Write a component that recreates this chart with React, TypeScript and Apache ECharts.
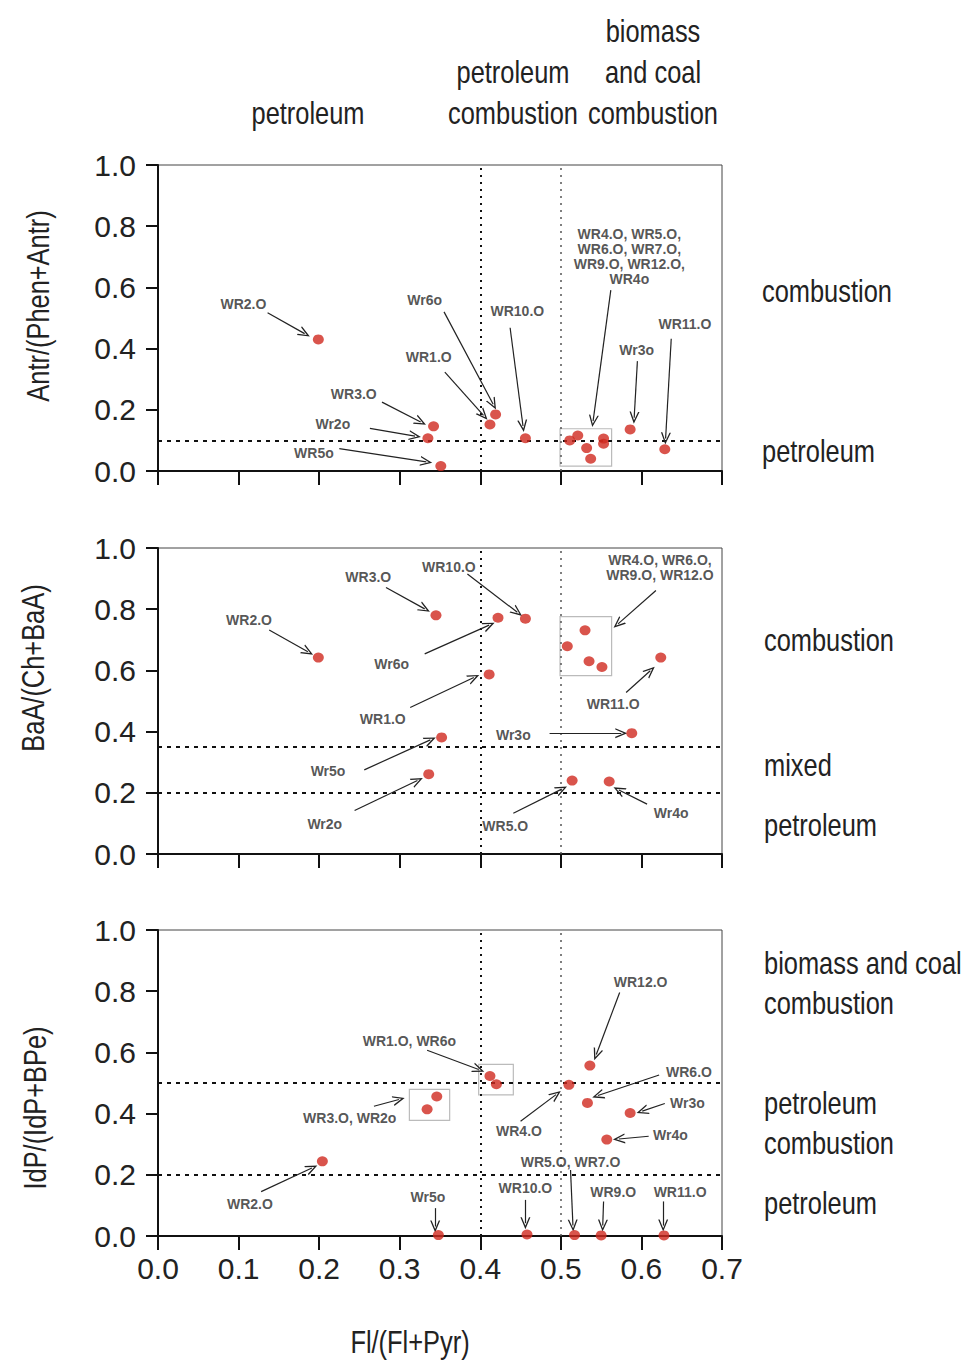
import React, { useEffect, useRef } from "react";
import * as echarts from "echarts";

// ---------- data ----------
const xTickLabels = ["0.0", "0.1", "0.2", "0.3", "0.4", "0.5", "0.6", "0.7"];

// Panel 1: Antr/(Phen+Antr) vs Fl/(Fl+Pyr)
const antrFl = [0.199, 0.342, 0.335, 0.351, 0.412, 0.419, 0.456, 0.511, 0.521, 0.532, 0.537, 0.553, 0.553, 0.586, 0.629];
const antrRatio = [0.43, 0.146, 0.107, 0.016, 0.152, 0.185, 0.107, 0.1, 0.116, 0.075, 0.04, 0.106, 0.089, 0.136, 0.071];

// Panel 2: BaA/(Ch+BaA) vs Fl/(Fl+Pyr)
const baaFl = [0.199, 0.345, 0.422, 0.456, 0.411, 0.53, 0.508, 0.535, 0.551, 0.624, 0.588, 0.352, 0.336, 0.514, 0.56];
const baaRatio = [0.642, 0.78, 0.772, 0.769, 0.587, 0.731, 0.679, 0.63, 0.611, 0.642, 0.395, 0.381, 0.261, 0.24, 0.237];

// Panel 3: IdP/(IdP+BPe) vs Fl/(Fl+Pyr)
const idpFl = [0.204, 0.346, 0.334, 0.412, 0.42, 0.51, 0.536, 0.533, 0.586, 0.557, 0.348, 0.458, 0.517, 0.55, 0.628];
const idpRatio = [0.244, 0.456, 0.414, 0.523, 0.496, 0.494, 0.557, 0.435, 0.402, 0.315, 0.003, 0.005, 0.003, 0.002, 0.002];

// reference (threshold) values
const flCuts = [0.4, 0.5];
const antrCuts = [0.1];
const baaCuts = [0.35, 0.2];
const idpCuts = [0.5, 0.2];

// annotations: text, label centre, arrow from -> to (data units)
const antrNotes = [
  { text: "WR2.O", at: [0.106, 0.546], from: [0.136, 0.517], to: [0.182, 0.449] },
  { text: "Wr6o", at: [0.331, 0.558], from: [0.355, 0.52], to: [0.416, 0.218] },
  { text: "WR1.O", at: [0.336, 0.372], from: [0.356, 0.323], to: [0.404, 0.182] },
  { text: "WR10.O", at: [0.446, 0.524], from: [0.437, 0.468], to: [0.453, 0.147] },
  { text: "WR3.O", at: [0.243, 0.252], from: [0.278, 0.225], to: [0.326, 0.16] },
  { text: "Wr2o", at: [0.217, 0.155], from: [0.263, 0.139], to: [0.319, 0.114] },
  { text: "WR5o", at: [0.1935, 0.058], from: [0.225, 0.073], to: [0.333, 0.03] },
  { text: "WR4.O, WR5.O,\nWR6.O, WR7.O,\nWR9.O, WR12.O,\nWR4o", at: [0.585, 0.702], from: [0.562, 0.591], to: [0.54, 0.163] },
  { text: "Wr3o", at: [0.594, 0.395], from: [0.595, 0.359], to: [0.591, 0.174] },
  { text: "WR11.O", at: [0.654, 0.479], from: [0.637, 0.432], to: [0.63, 0.106] },
];
const baaNotes = [
  { text: "WR3.O", at: [0.261, 0.906], from: [0.283, 0.871], to: [0.331, 0.801] },
  { text: "WR10.O", at: [0.361, 0.937], from: [0.384, 0.915], to: [0.446, 0.79] },
  { text: "WR2.O", at: [0.113, 0.765], from: [0.138, 0.732], to: [0.186, 0.661] },
  { text: "Wr6o", at: [0.29, 0.621], from: [0.331, 0.654], to: [0.411, 0.748] },
  { text: "WR1.O", at: [0.279, 0.441], from: [0.313, 0.479], to: [0.392, 0.577] },
  { text: "WR4.O, WR6.O,\nWR9.O, WR12.O", at: [0.623, 0.937], from: [0.618, 0.861], to: [0.571, 0.752] },
  { text: "WR11.O", at: [0.565, 0.49], from: [0.581, 0.528], to: [0.611, 0.599] },
  { text: "Wr3o", at: [0.441, 0.39], from: [0.486, 0.395], to: [0.575, 0.395] },
  { text: "Wr5o", at: [0.211, 0.27], from: [0.256, 0.275], to: [0.338, 0.373] },
  { text: "Wr2o", at: [0.207, 0.098], from: [0.244, 0.142], to: [0.322, 0.24] },
  { text: "WR5.O", at: [0.431, 0.093], from: [0.441, 0.133], to: [0.501, 0.212] },
  { text: "Wr4o", at: [0.637, 0.133], from: [0.607, 0.163], to: [0.572, 0.209] },
];
const idpNotes = [
  { text: "WR1.O, WR6o", at: [0.312, 0.637], from: [0.334, 0.607], to: [0.398, 0.544] },
  { text: "WR3.O, WR2o", at: [0.238, 0.386], from: [0.268, 0.424], to: [0.299, 0.446] },
  { text: "WR2.O", at: [0.114, 0.104], from: [0.128, 0.145], to: [0.191, 0.222] },
  { text: "WR12.O", at: [0.599, 0.831], from: [0.573, 0.796], to: [0.544, 0.593] },
  { text: "WR6.O", at: [0.659, 0.537], from: [0.622, 0.526], to: [0.546, 0.459] },
  { text: "Wr3o", at: [0.657, 0.435], from: [0.629, 0.433], to: [0.601, 0.408] },
  { text: "Wr4o", at: [0.636, 0.331], from: [0.609, 0.326], to: [0.572, 0.317] },
  { text: "WR4.O", at: [0.448, 0.342], from: [0.45, 0.375], to: [0.494, 0.462] },
  { text: "WR5.O, WR7.O", at: [0.512, 0.242], from: [0.512, 0.216], to: [0.515, 0.034] },
  { text: "Wr5o", at: [0.335, 0.129], from: [0.344, 0.091], to: [0.344, 0.031] },
  { text: "WR10.O", at: [0.456, 0.156], from: [0.456, 0.118], to: [0.456, 0.042] },
  { text: "WR9.O", at: [0.565, 0.145], from: [0.553, 0.113], to: [0.552, 0.034] },
  { text: "WR11.O", at: [0.648, 0.145], from: [0.627, 0.113], to: [0.627, 0.034] },
];

// highlighted groups (data units: x1, y1, x2, y2)
const antrBoxes = [[0.499, 0.138, 0.563, 0.016]];
const baaBoxes = [[0.499, 0.776, 0.563, 0.583]];
const idpBoxes = [
  [0.312, 0.479, 0.362, 0.378],
  [0.398, 0.561, 0.441, 0.461],
];

const yTitles = ["Antr/(Phen+Antr)", "BaA/(Ch+BaA)", "IdP/(IdP+BPe)"];
const xTitle = "Fl/(Fl+Pyr)";

// ---------- styling ----------
const SANS = "'Liberation Sans', Arial, sans-serif";
const DOT = "#d0291f";
const ARROW = "path://M0,12 L5,0 L10,12 L8.6,12 L5,3.4 L1.4,12 Z";
const NARROW_SCALE = 0.82;

const panels = [
  { fl: antrFl, ratio: antrRatio, cuts: antrCuts, notes: antrNotes, boxes: antrBoxes, top: 165 },
  { fl: baaFl, ratio: baaRatio, cuts: baaCuts, notes: baaNotes, boxes: baaBoxes, top: 548 },
  { fl: idpFl, ratio: idpRatio, cuts: idpCuts, notes: idpNotes, boxes: idpBoxes, top: 930 },
];

export default function App() {
  const ref = useRef<HTMLDivElement>(null);
  useEffect(() => {
    if (!ref.current) return;
    const chart = echarts.init(ref.current, undefined, { renderer: "svg" });

    const grids = panels.map((p) => ({
      left: 158,
      width: 564,
      top: p.top,
      height: 306,
      show: true,
      borderColor: "#444",
      borderWidth: 1,
      backgroundColor: "transparent",
    }));

    const xAxes = panels.map((p, i) => ({
      type: "value",
      gridIndex: i,
      min: 0,
      max: 0.7,
      interval: 0.1,
      axisLine: { show: true, onZero: false, lineStyle: { color: "#111", width: 2 } },
      axisTick: { show: true, inside: false, length: 14, lineStyle: { color: "#111", width: 2 } },
      axisLabel: {
        show: i === 2,
        margin: 17,
        fontSize: 30,
        fontFamily: SANS,
        color: "#222",
        formatter: (v: number) => xTickLabels[Math.round(v * 10)] ?? "",
      },
      splitLine: { show: false },
    }));

    const yAxes = panels.map((p, i) => ({
      type: "value",
      gridIndex: i,
      min: 0,
      max: 1,
      interval: 0.2,
      axisLine: { show: true, onZero: false, lineStyle: { color: "#111", width: 2 } },
      axisTick: { show: true, inside: false, length: 12, lineStyle: { color: "#111", width: 2 } },
      axisLabel: {
        margin: 22,
        fontSize: 30,
        fontFamily: SANS,
        color: "#222",
        formatter: (v: number) => v.toFixed(1),
      },
      splitLine: { show: false },
    }));

    const series: any[] = [];
    panels.forEach((p, i) => {
      series.push({
        type: "scatter",
        xAxisIndex: i,
        yAxisIndex: i,
        z: 5,
        symbol: "circle",
        symbolSize: [11, 10],
        itemStyle: { color: DOT },
        data: p.fl.map((x, k) => [x, p.ratio[k]]),
        markLine: {
          silent: true,
          symbol: ["none", "none"],
          label: { show: false },
          data: [
            { xAxis: flCuts[0], lineStyle: { color: "#111", width: 2, type: [2, 5] } },
            { xAxis: flCuts[1], lineStyle: { color: "#555", width: 1.5, type: [2, 5] } },
            ...p.cuts.map((c) => ({ yAxis: c, lineStyle: { color: "#111", width: 2, type: [4, 5] } })),
          ],
        },
        markArea: {
          silent: true,
          itemStyle: { color: "rgba(0,0,0,0)", borderColor: "#bbb", borderWidth: 1.2 },
          label: { show: false },
          data: p.boxes.map((b) => [{ coord: [b[0], b[1]] }, { coord: [b[2], b[3]] }]),
        },
      });
      series.push({
        type: "scatter",
        xAxisIndex: i,
        yAxisIndex: i,
        z: 6,
        symbol: "circle",
        symbolSize: 1,
        itemStyle: { color: "rgba(0,0,0,0)" },
        label: {
          show: true,
          position: "inside",
          formatter: "{b}",
          fontFamily: SANS,
          fontWeight: "bold",
          fontSize: 14,
          lineHeight: 15,
          color: "#2a2a2a",
          align: "center",
        },
        data: p.notes.map((n) => ({ name: n.text, value: n.at })),
        markLine: {
          silent: true,
          symbol: ["none", ARROW],
          symbolSize: [10, 12],
          label: { show: false },
          lineStyle: { color: "#222", width: 1.2, type: "solid" },
          data: p.notes.map((n) => [{ coord: n.from }, { coord: n.to }]),
        },
      });
    });

    const txt = (text: string, x: number, y: number, align = "center", rotation = 0) => ({
      type: "text",
      x,
      y,
      rotation,
      scaleX: NARROW_SCALE,
      style: {
        text,
        fontSize: 31,
        fontFamily: SANS,
        fill: "#222",
        align,
        verticalAlign: "middle",
      },
    });

    const graphic = [
      // header
      txt("petroleum", 308, 113),
      txt("petroleum", 513, 72),
      txt("combustion", 513, 113),
      txt("biomass", 653, 31),
      txt("and coal", 653, 72),
      txt("combustion", 653, 113),
      // right-hand notes
      txt("combustion", 762, 291, "left"),
      txt("petroleum", 762, 451, "left"),
      txt("combustion", 764, 640, "left"),
      txt("mixed", 764, 765, "left"),
      txt("petroleum", 764, 825, "left"),
      txt("biomass and coal", 764, 963, "left"),
      txt("combustion", 764, 1003, "left"),
      txt("petroleum", 764, 1103, "left"),
      txt("combustion", 764, 1143, "left"),
      txt("petroleum", 764, 1203, "left"),
      // y titles
      txt(yTitles[0], 38, 306, "center", Math.PI / 2),
      txt(yTitles[1], 33, 668, "center", Math.PI / 2),
      txt(yTitles[2], 35, 1108, "center", Math.PI / 2),
      // x title
      txt(xTitle, 410, 1342),
    ];

    chart.setOption({
      animation: false,
      backgroundColor: "#fff",
      grid: grids,
      xAxis: xAxes,
      yAxis: yAxes,
      series,
      graphic,
    });
    return () => chart.dispose();
  }, []);

  return (
    <div
      ref={ref}
      style={{ position: "absolute", left: 0, top: 0, width: 963, height: 1360, background: "#fff" }}
    />
  );
}
